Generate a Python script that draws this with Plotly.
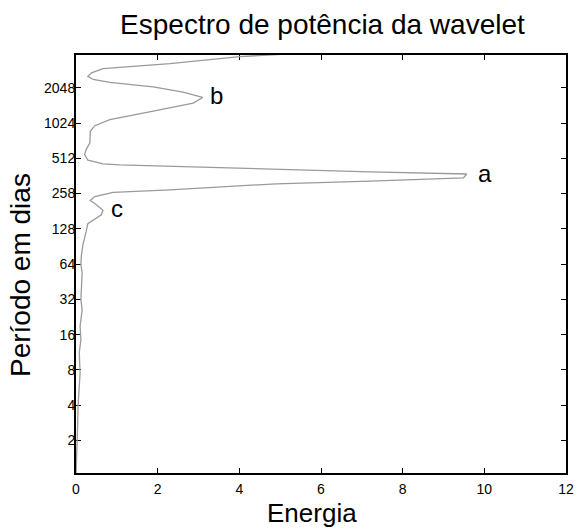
import math
import plotly.graph_objects as go

# Wavelet power spectrum: energy vs period (days)
period_days = [4150, 3900, 3788, 3304, 2998, 2759, 2575, 2419, 2288, 2091, 1884, 1699,
               1520, 1296, 1097, 975, 873, 695, 609, 553, 495, 484, 461, 452, 440,
               433, 410, 393, 377, 350, 328, 311, 276, 263, 242, 224, 211, 185, 169,
               153, 142, 122, 94, 75, 64, 54, 32, 26, 19, 14.5, 11.2, 7.5, 5.4, 3.9,
               2.64, 1.78, 1.05, 1.0]
energy = [6.0, 4.82, 4.01, 2.30, 0.66, 0.38, 0.29, 0.42, 0.83, 1.89, 2.62, 3.10,
          2.87, 1.89, 0.83, 0.46, 0.35, 0.34, 0.25, 0.21, 0.29, 0.42, 0.66, 1.07, 2.30,
          3.11, 4.99, 7.2, 9.57, 9.49, 7.2, 4.9, 2.30, 0.91, 0.46, 0.35, 0.46, 0.66, 0.62,
          0.42, 0.29, 0.25, 0.17, 0.13, 0.12, 0.15, 0.12, 0.15, 0.10, 0.12, 0.08, 0.10,
          0.07, 0.05, 0.04, 0.02, 0.01, 0.0]

# peak labels
peak_labels = ["a", "b", "c"]
peak_energy = [10.02, 3.44, 1.0]
peak_period = [382, 1775, 189.5]

y_tickvals = [2, 4, 8, 16, 32, 64, 128, 258, 512, 1024, 2048]
y_ticktext = ["2", "4", "8", "16", "32", "64", "128", "258", "512", "1024", "2048"]
x_tickvals = [0, 2, 4, 6, 8, 10, 12]

FONT = "Liberation Sans, Arial, sans-serif"

fig = go.Figure()
fig.add_trace(go.Scatter(x=energy, y=period_days, mode="lines",
                         line=dict(color="#9a9a9a", width=1.3),
                         hoverinfo="skip", showlegend=False))

for t, e, p in zip(peak_labels, peak_energy, peak_period):
    fig.add_annotation(x=e, y=math.log10(p), xref="x", yref="y", text=t,
                       showarrow=False, font=dict(family=FONT, size=24, color="black"),
                       xanchor="center", yanchor="middle")

fig.add_annotation(x=0.481, y=-0.0964, xref="paper", yref="paper", text="Energia",
                   showarrow=False, font=dict(family=FONT, size=26, color="black"),
                   xanchor="center", yanchor="middle")
fig.add_annotation(x=-0.112, y=0.474, xref="paper", yref="paper", text="Período em dias",
                   textangle=-90, showarrow=False,
                   font=dict(family=FONT, size=28, color="black"),
                   xanchor="center", yanchor="middle")

axis_common = dict(showline=True, linecolor="black", linewidth=2, mirror="ticks",
                   ticks="inside", ticklen=5, tickwidth=1, tickcolor="black",
                   showgrid=False, zeroline=False, layer="below traces",
                   automargin=False)

fig.update_layout(
    width=577, height=528, autosize=False,
    margin=dict(l=76.3, r=11, t=55.3, b=54.7),
    paper_bgcolor="white", plot_bgcolor="white",
    font=dict(family=FONT, size=14, color="black"),
    title=dict(text="Espectro de potência da wavelet", x=0.503, xref="paper",
               xanchor="center", y=1 - 24 / 528, yref="container", yanchor="middle",
               font=dict(family=FONT, size=28, color="black")),
    xaxis=dict(range=[0, 12], tickvals=x_tickvals, ticklabelstandoff=2,
               tickfont=dict(family=FONT, size=14, color="black"), **axis_common),
    yaxis=dict(type="log", range=[math.log10(1.053), math.log10(3917)],
               tickvals=y_tickvals, ticktext=y_ticktext, ticklabelstandoff=-4,
               tickfont=dict(family=FONT, size=14, color="black"), **axis_common),
)

page_style = ("document.documentElement.style.margin='0';"
              "document.documentElement.style.overflow='hidden';"
              "document.body.style.margin='0';"
              "document.body.style.overflow='hidden';")

fig.write_html("out.html", config={"responsive": False, "displayModeBar": False},
               post_script=page_style)
